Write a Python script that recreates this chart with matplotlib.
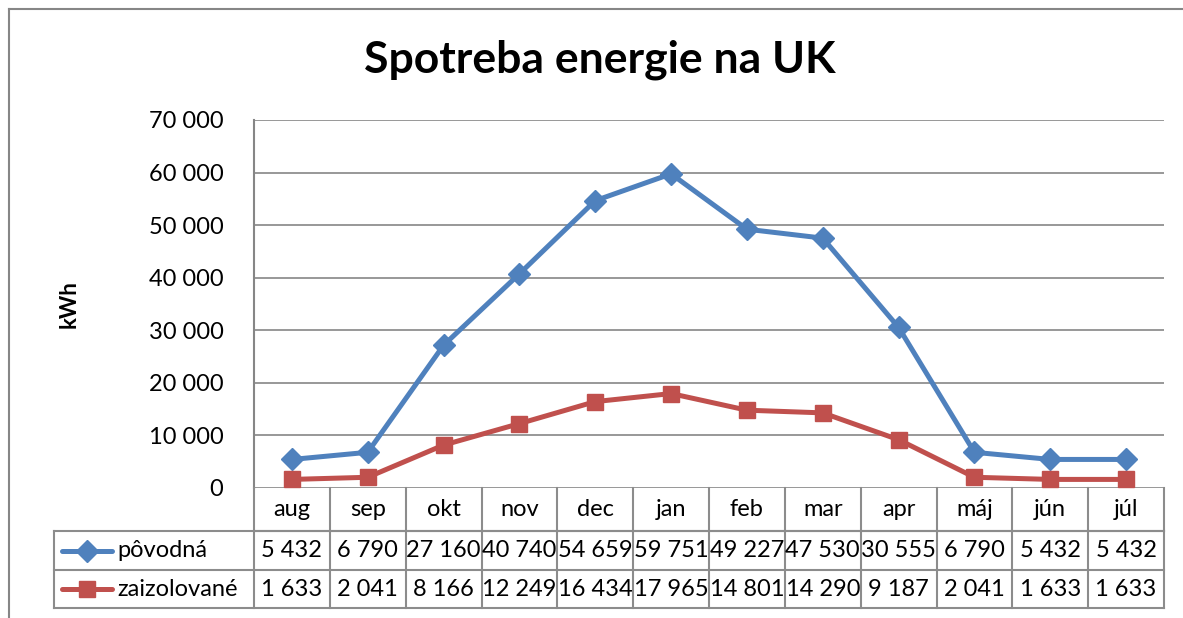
import matplotlib.pyplot as plt
from matplotlib.lines import Line2D

months = ['aug', 'sep', 'okt', 'nov', 'dec', 'jan', 'feb', 'mar', 'apr', 'máj', 'jún', 'júl']
povodna = [5432, 6790, 27160, 40740, 54659, 59751, 49227, 47530, 30555, 6790, 5432, 5432]
zaizolovane = [1633, 2041, 8166, 12249, 16434, 17965, 14801, 14290, 9187, 2041, 1633, 1633]
series_names = ['pôvodná', 'zaizolované']
yticks = [0, 10000, 20000, 30000, 40000, 50000, 60000, 70000]

BLUE = '#4F81BD'
RED = '#C0504D'
GRID = '#868686'
FS = 17

plt.rcParams['font.family'] = ['Lato', 'DejaVu Sans']

W, H = 1183, 618
fig = plt.figure(figsize=(W / 100, H / 100), dpi=100)

# pixel helpers
def fx(px):
    return px / W

def fy(py):
    return 1 - py / H

def fmt(v):
    return f'{v:,}'.replace(',', ' ')

# outer chart frame
fig.add_artist(Line2D([fx(9), fx(9)], [fy(9), 0], color=GRID, lw=1.5))
fig.add_artist(Line2D([fx(9), 1], [fy(9), fy(9)], color=GRID, lw=1.5))

left, right, top, bottom = 254, 1164, 120, 488
ax = fig.add_axes([fx(left), fy(bottom), fx(right - left), fy(top) - fy(bottom)])

x = list(range(len(months)))
ax.plot(x, povodna, color=BLUE, lw=3.6, marker='D', markersize=11, zorder=3)
ax.plot(x, zaizolovane, color=RED, lw=3.6, marker='s', markersize=12, zorder=3)

ax.set_xlim(-0.5, len(months) - 0.5)
ax.set_ylim(0, 70000)
ax.set_yticks(yticks)
ax.set_yticklabels([fmt(v) for v in yticks], fontsize=FS)
ax.tick_params(axis='y', length=0, pad=22)
ax.set_xticks([])
ax.grid(axis='y', color=GRID, lw=1.2)
ax.set_axisbelow(True)
for s in ['top', 'right', 'bottom']:
    ax.spines[s].set_visible(False)
ax.spines['left'].set_color(GRID)
ax.spines['left'].set_linewidth(1.5)

ax.set_ylabel('kWh', fontsize=16, fontweight='bold', labelpad=50)
fig.text(0.507, fy(60), 'Spotreba energie na UK', ha='center', va='center',
         fontsize=32, fontweight='bold')

# data table under the plot
rows_px = [488, 531, 570, 608]
leg_left = 54
col_w = (right - left) / len(months)
tkw = dict(color='#8C8C8C', lw=1.5, clip_on=False)

fig.add_artist(Line2D([fx(left), fx(right)], [fy(rows_px[1])] * 2, **tkw))
for r in rows_px[1:]:
    fig.add_artist(Line2D([fx(leg_left), fx(right)], [fy(r)] * 2, **tkw))
for i in range(len(months) + 1):
    xp = left + i * col_w
    fig.add_artist(Line2D([fx(xp)] * 2, [fy(rows_px[0]), fy(rows_px[-1])], **tkw))
fig.add_artist(Line2D([fx(leg_left)] * 2, [fy(rows_px[1]), fy(rows_px[-1])], **tkw))

for i, m in enumerate(months):
    cx = fx(left + (i + 0.5) * col_w)
    fig.text(cx, fy((rows_px[0] + rows_px[1]) / 2), m, ha='center', va='center', fontsize=FS)
    fig.text(cx, fy((rows_px[1] + rows_px[2]) / 2), fmt(povodna[i]), ha='center', va='center', fontsize=FS)
    fig.text(cx, fy((rows_px[2] + rows_px[3]) / 2), fmt(zaizolovane[i]), ha='center', va='center', fontsize=FS)

# legend keys inside the table
for k, (name, col, mk, ms) in enumerate(zip(series_names, [BLUE, RED], ['D', 's'], [11, 12])):
    yc = fy((rows_px[k + 1] + rows_px[k + 2]) / 2)
    fig.add_artist(Line2D([fx(62), fx(112)], [yc, yc], color=col, lw=3.6,
                          solid_capstyle='round'))
    fig.add_artist(Line2D([fx(87)], [yc], color=col, marker=mk, markersize=ms))
    fig.text(fx(117), yc, name, ha='left', va='center', fontsize=FS)

fig.savefig('out.png', dpi=100)
